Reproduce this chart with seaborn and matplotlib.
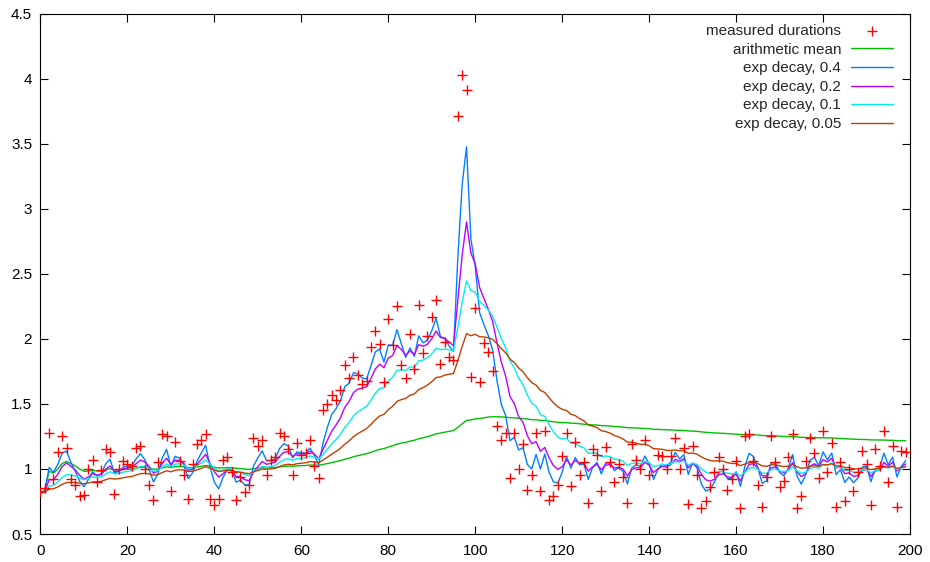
import numpy as np
import pandas as pd
import matplotlib
matplotlib.use("Agg")
import matplotlib.pyplot as plt
import seaborn as sns

# ---- data ----
x_index = list(range(200))
measured = [
    0.82, 0.85, 1.28, 0.92, 1.13, 1.25, 1.16, 0.92, 0.88, 0.79,
    0.80, 1.00, 1.07, 0.90, 0.99, 1.15, 1.13, 0.81, 1.00, 1.06,
    1.04, 1.02, 1.16, 1.18, 1.00, 0.88, 0.76, 1.05, 1.27, 1.25,
    0.83, 1.21, 1.06, 0.95, 0.77, 1.04, 1.19, 1.22, 1.27, 0.77,
    0.72, 0.77, 1.07, 1.09, 0.98, 0.76, 0.94, 0.82, 0.88, 1.24,
    1.18, 1.22, 0.95, 1.07, 1.09, 1.28, 1.25, 1.15, 0.95, 1.20,
    1.11, 1.12, 1.22, 1.02, 0.93, 1.45, 1.50, 1.57, 1.53, 1.61,
    1.80, 1.70, 1.86, 1.72, 1.65, 1.68, 1.94, 2.06, 1.96, 1.67,
    2.15, 1.95, 2.25, 1.80, 1.70, 2.04, 1.77, 2.26, 1.89, 2.02,
    2.17, 2.30, 1.81, 1.98, 1.86, 1.84, 3.71, 4.03, 3.91, 1.71,
    2.24, 1.67, 1.97, 1.90, 1.75, 1.33, 1.22, 1.28, 0.93, 1.28,
    1.00, 1.19, 0.84, 0.95, 1.28, 0.83, 1.29, 0.76, 0.79, 0.88,
    1.10, 1.28, 0.87, 1.21, 0.95, 1.05, 0.74, 1.15, 1.11, 0.83,
    1.17, 1.05, 0.90, 1.04, 0.94, 0.74, 1.19, 1.07, 1.00, 1.22,
    0.95, 0.74, 1.11, 1.10, 1.00, 1.10, 1.24, 1.00, 1.16, 0.73,
    1.18, 0.95, 0.70, 0.75, 0.86, 0.98, 1.09, 1.00, 0.84, 0.92,
    1.06, 0.70, 1.25, 1.27, 1.06, 0.88, 0.71, 0.94, 1.25, 1.05,
    0.86, 0.91, 1.09, 1.27, 0.70, 0.79, 1.06, 1.24, 1.12, 0.93,
    1.29, 0.98, 1.20, 0.71, 1.05, 0.75, 1.00, 0.83, 0.98, 1.14,
    1.04, 0.72, 1.15, 1.02, 1.29, 0.90, 1.18, 0.71, 1.14, 1.13,
]
decay_factors = [0.4, 0.2, 0.1, 0.05]
series_labels = ["measured durations", "arithmetic mean",
                 "exp decay, 0.4", "exp decay, 0.2",
                 "exp decay, 0.1", "exp decay, 0.05"]
x_ticks = [0, 20, 40, 60, 80, 100, 120, 140, 160, 180, 200]
y_ticks = [0.5, 1, 1.5, 2, 2.5, 3, 3.5, 4, 4.5]
y_tick_labels = ["0.5", "1", "1.5", "2", "2.5", "3", "3.5", "4", "4.5"]

colors = ["#ff0000", "#00c000", "#0080ff", "#c000ff", "#00eeee", "#c04000"]

# derived series: running mean and exponentially decaying averages of the measurements
s = pd.Series(measured, index=x_index, dtype=float)
df = pd.DataFrame({"x": x_index, "measured": s.values})
df["mean"] = s.expanding().mean().values
for a in decay_factors:
    df[f"ema_{a}"] = s.ewm(alpha=a, adjust=False).mean().values

sns.set_style("ticks")
plt.rcParams["font.family"] = ["Liberation Sans", "DejaVu Sans"]
plt.rcParams["axes.linewidth"] = 0.8

fig = plt.figure(figsize=(9.3, 5.62), dpi=100)
ax = fig.add_axes([0.0435, 0.0498, 0.935, 0.9258])

sns.scatterplot(data=df, x="x", y="measured", marker="+", color=colors[0],
                s=55, linewidth=1.0, ax=ax, label=series_labels[0], zorder=3)
sns.lineplot(data=df, x="x", y="mean", color=colors[1], linewidth=1.0,
             ax=ax, label=series_labels[1])
for i, a in enumerate(decay_factors):
    sns.lineplot(data=df, x="x", y=f"ema_{a}", color=colors[2 + i],
                 linewidth=1.0, ax=ax, label=series_labels[2 + i])

ax.set_xlim(0, 200)
ax.set_ylim(0.5, 4.5)
ax.set_xticks(x_ticks)
ax.set_xticklabels([str(t) for t in x_ticks])
ax.set_yticks(y_ticks)
ax.set_yticklabels(y_tick_labels)
ax.set_xlabel("")
ax.set_ylabel("")
ax.tick_params(direction="in", top=True, right=True, length=6, width=0.8,
               labelsize=11, colors="black")
ax.tick_params(axis="y", pad=6)
ax.tick_params(axis="x", pad=7)
for sp in ax.spines.values():
    sp.set_visible(True)
    sp.set_color("black")

leg = ax.legend(loc="upper right", bbox_to_anchor=(0.9804, 0.980),
                frameon=False, markerfirst=False, handlelength=2.75,
                handletextpad=0.65, labelspacing=0.3, borderpad=0,
                borderaxespad=0, fontsize=11, scatterpoints=1)

fig.savefig("out.png", dpi=100)
